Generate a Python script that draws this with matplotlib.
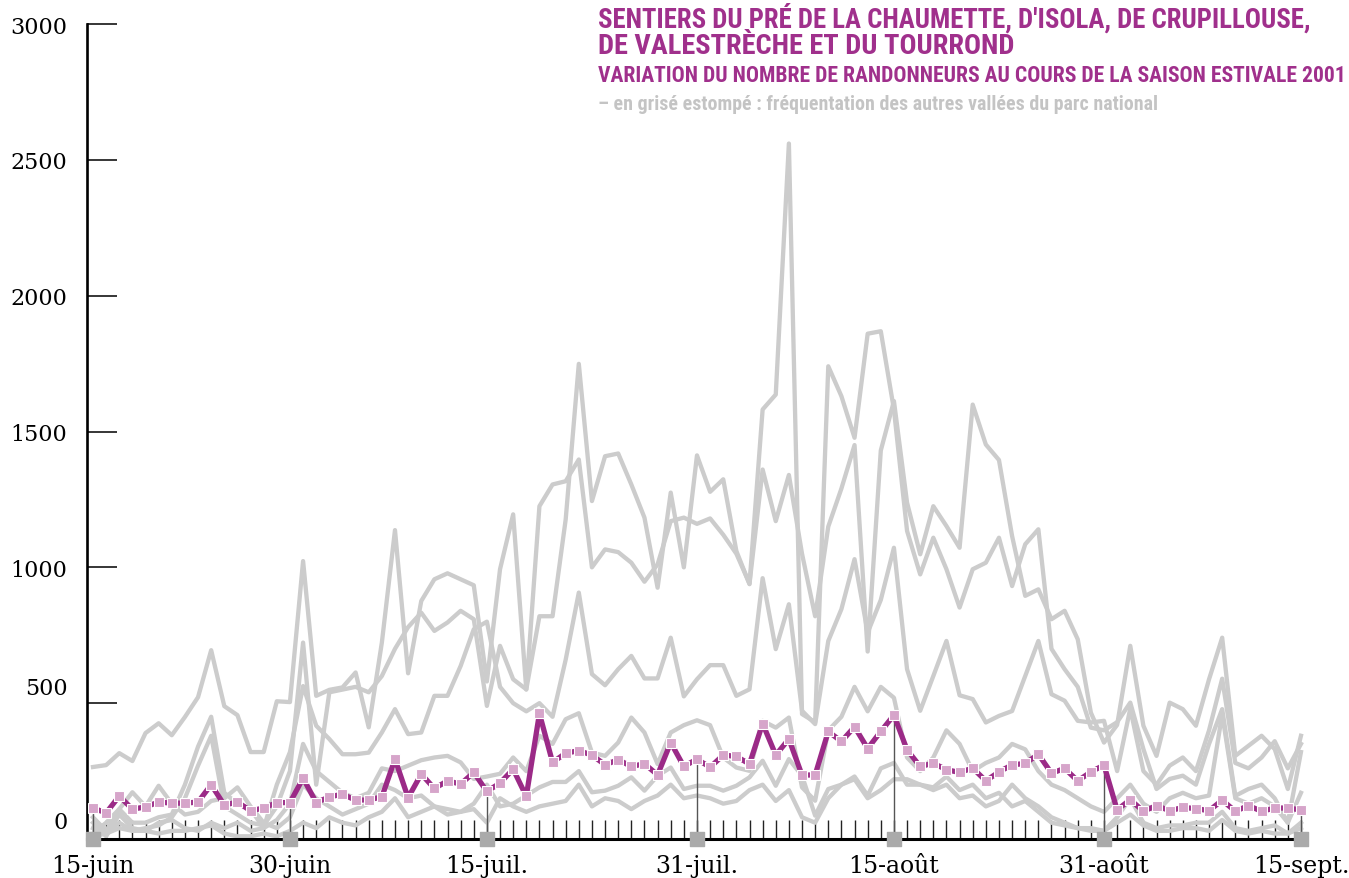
import matplotlib
matplotlib.use('Agg')
import matplotlib.pyplot as plt
import matplotlib.transforms as mtransforms
import numpy as np

# jours du 15 juin au 15 sept. 2001 (index 0..92)
date_pos = [0, 15, 30, 46, 61, 77, 92]
date_labels = ['15-juin', '30-juin', '15-juil.', '31-juil.', '15-août', '31-août', '15-sept.']

# vallée suivie (en violet)
vallee = [114, 96, 158, 110, 118, 136, 132, 132, 136, 200,
          125, 136, 104, 114, 134, 134, 224, 134, 155, 165,
          143, 144, 155, 294, 152, 239, 186, 214, 202, 245,
          175, 206, 257, 157, 462, 282, 316, 325, 309, 273,
          292, 267, 277, 236, 355, 267, 294, 264, 309, 304,
          276, 425, 309, 368, 235, 236, 396, 359, 413, 333,
          396, 456, 328, 267, 279, 255, 245, 261, 214, 247,
          273, 278, 312, 242, 260, 214, 247, 272, 107, 145,
          102, 123, 104, 116, 112, 104, 143, 102, 123, 102,
          114, 114, 107]

# autres vallées (en grisé)
autre1 = [265, 272, 316, 287, 390, 426, 382, 449, 522, 695, 489, 456, 320, 320, 507, 504,
          1023, 527, 549, 558, 613, 411, 723, 1137, 610, 876, 956, 978, 956, 934, 580, 993, 1195, 550,
          1225, 1305, 1317, 1397, 1000, 1066, 1056, 1017, 947, 1011, 1170, 1183, 1160, 1180, 1120,
          1050, 940, 1360, 1170, 1340, 1050, 820, 1150, 1290, 1450, 690, 1430, 1612, 1238,
          1048, 1225, 1152, 1072, 1599, 1452, 1395, 1115, 895, 919, 809, 840, 735, 465, 355,
          420, 711, 417, 306, 502, 478, 417, 588, 741, 306, 343, 380, 331, 184, 380]
autre2 = [40, 20, 60, 30, 40, 50, 80, 150, 270, 380, 120, 90, 60, 50, 120, 250,
          723, 200, 540, 550, 560, 540, 600, 700, 780, 833, 766, 797, 840, 809, 490, 711, 588, 551,
          820, 820, 1176, 1749, 1244, 1409, 1419, 1305, 1183, 925, 1275, 1000, 1412, 1278, 1324,
          1060, 938, 1581, 1636, 2560, 460, 430, 1740, 1630, 1477, 1860, 1869, 1581, 1134,
          974, 1109, 993, 852, 993, 1017, 1109, 931, 1085, 1140, 700, 625, 560, 410, 400,
          430, 502, 331, 184, 221, 233, 200, 350, 478, 159, 184, 200, 150, 60, 320]
autre3 = [80, 30, 110, 60, 60, 80, 90, 200, 340, 450, 170, 130, 110, 40, 200, 320,
          563, 417, 368, 312, 312, 318, 392, 478, 386, 392, 527, 527, 637, 772, 800, 560, 500, 470,
          500, 450, 660, 907, 607, 566, 625, 674, 591, 591, 741, 525, 588, 640, 640,
          527, 551, 960, 699, 864, 472, 423, 729, 846, 1030, 760, 880, 1072, 625,
          472, 600, 729, 529, 515, 429, 453, 471, 600, 729, 533, 509, 435, 429, 435,
          250, 480, 250, 200, 270, 300, 250, 400, 590, 280, 260, 300, 360, 260, 350]
autre4 = [60, 10, 90, 40, 30, 60, 70, 40, 30, 60, 40, 60, 30, 40, 70, 130,
          350, 250, 210, 170, 150, 170, 260, 250, 270, 290, 300, 306, 282, 221, 230, 240, 300, 250,
          380, 350, 441, 463, 318, 306, 355, 447, 392, 276, 392, 419, 437, 419, 300,
          263, 251, 435, 410, 447, 190, 141, 400, 450, 560, 470, 560, 520, 300,
          250, 300, 400, 350, 250, 280, 300, 350, 330, 250, 200, 180, 150, 120, 100,
          150, 200, 130, 100, 150, 170, 150, 160, 460, 150, 130, 150, 120, 60, 170]
autre5 = [20, 60, 110, 172, 120, 196, 130, 90, 100, 140, 150, 190, 120, 60, 40, 80,
          200, 150, 120, 90, 110, 130, 200, 180, 150, 160, 120, 110, 100, 130, 200, 120, 130, 160,
          190, 210, 210, 250, 172, 178, 196, 227, 178, 233, 263, 184, 196, 196, 178,
          196, 227, 288, 196, 294, 233, 86, 184, 200, 230, 160, 260, 280, 200,
          200, 180, 200, 150, 160, 120, 140, 200, 150, 120, 80, 60, 40, 30, 30,
          80, 150, 60, 40, 50, 50, 60, 60, 100, 40, 30, 40, 50, 20, 60]
autre6 = [10, 20, 40, 30, 30, 20, 30, 30, 40, 50, 20, 10, 10, 20, 10, 30,
          60, 40, 80, 60, 50, 80, 100, 150, 80, 100, 120, 90, 100, 110, 60, 150, 120, 100,
          120, 130, 140, 200, 120, 150, 140, 110, 140, 160, 200, 150, 160, 150, 130,
          140, 180, 200, 140, 180, 80, 60, 150, 200, 220, 150, 180, 220, 220,
          200, 190, 230, 180, 200, 150, 170, 120, 140, 100, 60, 50, 40, 40, 30,
          60, 90, 50, 30, 30, 40, 40, 30, 70, 30, 20, 30, 20, 20, 40]

violet = '#9b2a87'
rose = '#d6a5ca'
gris = '#cccccc'

fig = plt.figure(figsize=(13.49, 8.79), dpi=100)
W, H = 1349, 879
ax = fig.add_axes([87 / W, (H - 840) / H, (1306 - 87) / W, (840 - 25) / H])

jours = np.arange(len(vallee))
for serie in [autre1, autre2, autre3, autre4, autre5, autre6]:
    ax.plot(jours, serie, color=gris, lw=3.1, zorder=2, clip_on=False)

# traits verticaux aux dates repères
ax.vlines(date_pos, 0, [vallee[d] for d in date_pos], color='#555555', lw=1.0, zorder=3)

ax.plot(jours, vallee, color=violet, lw=3.8, zorder=4,
        marker='s', markersize=7, markerfacecolor=rose,
        markeredgecolor='white', markeredgewidth=0.8)

ax.scatter(date_pos, [0] * len(date_pos), marker='s', s=115, color='#aaaaaa',
           zorder=6, clip_on=False)

ax.set_xlim((87 - 93) / 13.13, (1306 - 93) / 13.13)
ax.set_ylim(0, 3000)

for s in ['top', 'right']:
    ax.spines[s].set_visible(False)
ax.spines['left'].set_linewidth(1.9)
ax.spines['bottom'].set_linewidth(2.2)
ax.spines['bottom'].set_zorder(5)

ax.set_yticks(range(0, 3001, 500))
ax.tick_params(axis='y', direction='in', length=21.6, width=1.1, pad=14,
               labelsize=16, labelfontfamily='DejaVu Serif')
ax.set_xticks(date_pos)
ax.set_xticklabels(date_labels)
ax.set_xticks(jours, minor=True)
ax.tick_params(axis='x', which='both', direction='in', length=14, width=1.0,
               color='#222222', pad=11, labelsize=17, labelfontfamily='DejaVu Serif')

fig.canvas.draw()
for lab in ax.get_yticklabels():
    t = lab.get_text()
    if t in ('0', '500'):
        dy = 14 if t == '0' else 13
        lab.set_transform(lab.get_transform() +
                          mtransforms.ScaledTranslation(0, dy / 72, fig.dpi_scale_trans))

titre_font = ['Roboto Condensed', 'Liberation Sans Narrow', 'Roboto']
renderer = fig.canvas.get_renderer()


def titre(txt, y, largeur, couleur):
    # taille ajustée pour tenir dans la largeur du bandeau
    t = fig.text(598 / W, 1 - y / H, txt, color=couleur, fontsize=18,
                 fontweight='bold', family=titre_font, va='center')
    w = t.get_window_extent(renderer).width
    t.set_fontsize(18 * largeur / w)
    return t


titre("SENTIERS DU PRÉ DE LA CHAUMETTE, D'ISOLA, DE CRUPILLOUSE,", 18, 712, '#a0308c')
titre("DE VALESTRÈCHE ET DU TOURROND", 47, 417, '#a0308c')
titre("VARIATION DU NOMBRE DE RANDONNEURS AU COURS DE LA SAISON ESTIVALE 2001", 76, 747, '#a0308c')
titre("– en grisé estompé : fréquentation des autres vallées du parc national", 104, 557, '#c4c4c4')

fig.savefig('out.png', dpi=100)
